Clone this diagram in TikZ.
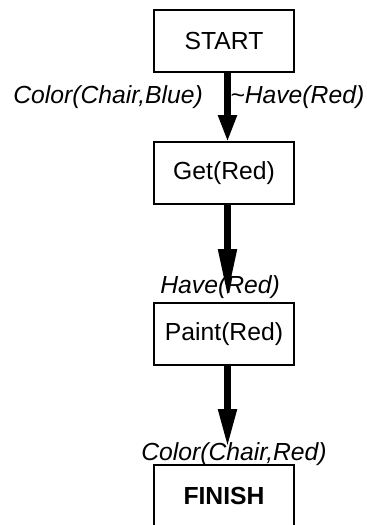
\documentclass[tikz,border=0pt]{standalone}
\usepackage{fontspec}
\setmainfont{Liberation Sans}
\usetikzlibrary{arrows.meta}
\begin{document}
\begin{tikzpicture}[x=0.5pt,y=-0.5pt,
  txt/.style={font=\fontsize{12.35pt}{14pt}\selectfont},
  box/.style={txt,draw,line width=0.65pt,minimum width=70pt,minimum height=31pt,inner sep=0pt,outer sep=0pt},
  lab/.style={anchor=base west,inner sep=0pt,font=\fontsize{12.35pt}{14pt}\selectfont\itshape},
  arr/.style={line width=3.25pt}]
\clip (0,0) rectangle (367,525);
\fill[white] (0,0) rectangle (367,525);
\node[box] (start) at (224,41) {START};
\node[box] (get) at (224,173) {Get(Red)};
\node[box] (paint) at (224,334) {Paint(Red)};
\node[box,font=\fontsize{12.35pt}{14pt}\selectfont\bfseries] (finish) at (224,496) {FINISH};
\node[lab] (l1) at (13,103) {Color(Chair,Blue)};
\node[lab] (l2) at (230,103) {\textasciitilde Have(Red)};
\node[lab] (l3) at (160,293) {Have(Red)};
\node[lab] (l4) at (141,460) {Color(Chair,Red)};
\draw[arr,-{Triangle[length=13.5pt,width=8.75pt]}] ([xshift=1.75pt]start.south) -- ([xshift=1.75pt]get.north);
\draw[arr,shorten >=3pt,-{Triangle[length=24pt,width=8.75pt]}] ([xshift=1.75pt]get.south) -- ([xshift=1.75pt]paint.north);
\draw[arr,shorten >=9pt,-{Triangle[length=19pt,width=8.75pt]}] ([xshift=1.75pt]paint.south) -- ([xshift=1.75pt]finish.north);
\end{tikzpicture}
\end{document}
